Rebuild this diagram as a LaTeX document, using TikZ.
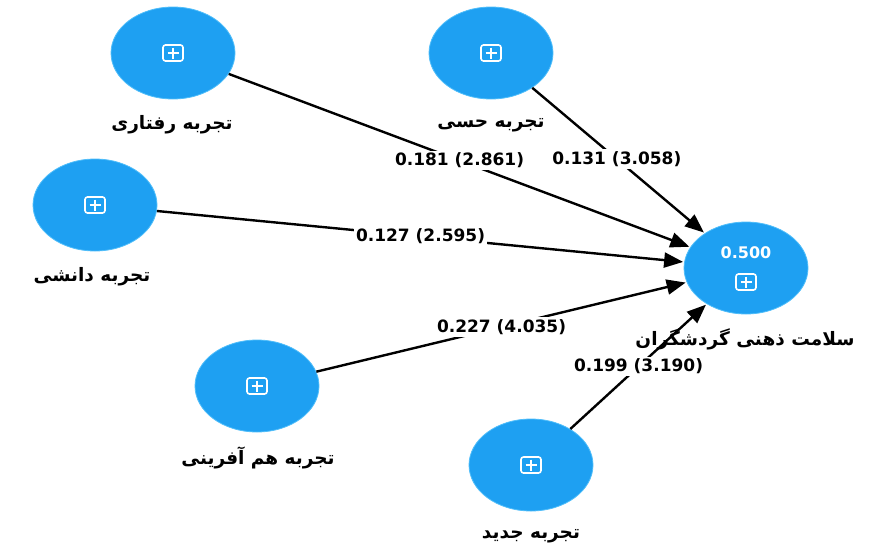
\documentclass[tikz,border=0pt]{standalone}
\usepackage{fontspec}
\usetikzlibrary{shapes.geometric,arrows.meta}
\TeXXeTstate=1
\newfontfamily\fa[Script=Arabic]{DejaVu Sans}
\newfontfamily\numfont{DejaVu Sans}
\definecolor{lvblue}{RGB}{30,160,242}
\definecolor{lvrim}{RGB}{80,190,250}
\tikzset{
  latent/.style={ellipse, fill=lvblue, draw=lvrim, line width=0.8pt,
    minimum width=124pt, minimum height=92pt, inner sep=0pt},
  vname/.style={font=\fa\bfseries\fontsize{18.5}{22}\selectfont, text=black, inner sep=1pt},
  coef/.style={font=\numfont\bfseries\fontsize{17}{20}\selectfont, fill=white,
    inner sep=2pt, text=black},
  path/.style={draw=black, line width=2.4pt,
    -{Triangle[length=19pt,width=15pt]}, shorten >=1pt},
  plusbox/.pic={
    \draw[white, line width=1.6pt, rounded corners=2.5pt] (-10,-8) rectangle (10,8);
    \draw[white, line width=1.6pt] (-5.5,0) -- (5.5,0) (0,-5.5) -- (0,5.5);
  }
}
\begin{document}
\begin{tikzpicture}[x=1pt, y=-1pt]
  \useasboundingbox (0,0) rectangle (874,557);

  % latent variables
  \node[latent] (beh) at (173,53) {};
  \node[latent] (sen) at (491,53) {};
  \node[latent] (kno) at (95,205) {};
  \node[latent] (coc) at (257,386) {};
  \node[latent] (nov) at (531,465) {};
  \node[latent] (mh)  at (746,268) {};

  \foreach \p in {beh,sen,kno,coc,nov} \pic at (\p) {plusbox};
  \pic at ([yshift=-14pt]mh.center) {plusbox};
  \node[font=\numfont\bfseries\fontsize{16}{19}\selectfont, text=white]
    (r2) at ([yshift=15pt]mh.center) {0.500};

  % variable names
  \node[vname] (lbeh) at (172,125) {\beginR تجربه رفتاری\endR};
  \node[vname] (lsen) at (491,125) {\beginR تجربه حسی\endR};
  \node[vname] (lkno) at (92,277)  {\beginR تجربه دانشی\endR};
  \node[vname] (lcoc) at (258,458) {\beginR تجربه هم آفرینی\endR};
  \node[vname] (lnov) at (531,536) {\beginR تجربه جدید\endR};
  \node[vname] (lmh)  at (745,339) {\beginR سلامت ذهنی گردشگران\endR};

  % structural paths with coefficients (t values)
  \draw[path] (beh) -- node[coef, pos=0.5] {0.181 (2.861)} (mh);
  \draw[path] (sen) -- node[coef, pos=0.49] {0.131 (3.058)} (mh);
  \draw[path] (kno) -- node[coef, pos=0.5] {0.127 (2.595)} (mh);
  \draw[path] (coc) -- node[coef, pos=0.5] {0.227 (4.035)} (mh);
  \draw[path] (nov) -- node[coef, pos=0.5] {0.199 (3.190)} (mh);
\end{tikzpicture}
\end{document}
